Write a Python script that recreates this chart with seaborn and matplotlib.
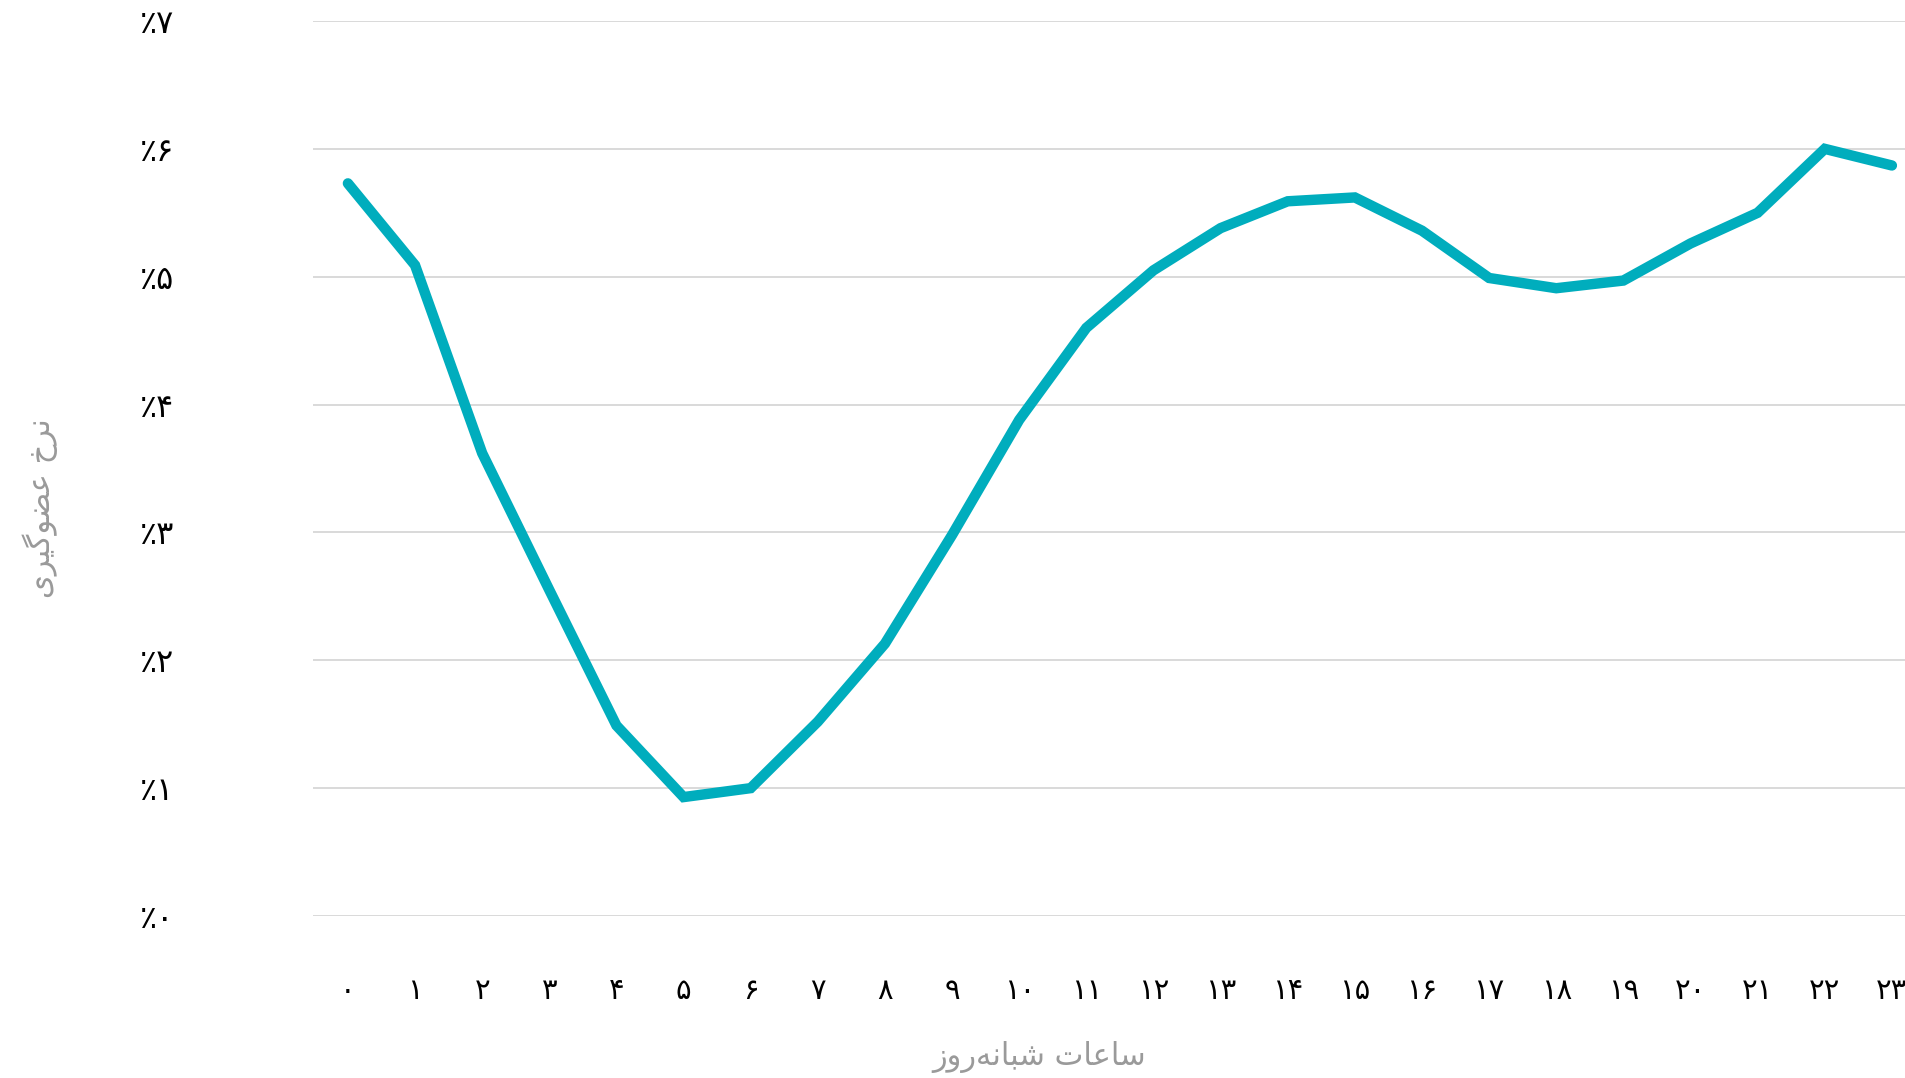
import seaborn as sns
import matplotlib.pyplot as plt
import pandas as pd

# hourly join rate (percent)
hours = list(range(24))
rates = [0.573, 0.509, 0.362, 0.255, 0.149, 0.093, 0.100, 0.152, 0.213, 0.298,
         0.388, 0.460, 0.505, 0.538, 0.559, 0.562, 0.536, 0.499, 0.491, 0.497,
         0.526, 0.550, 0.600, 0.587]
y_ticks = [0.0, 0.1, 0.2, 0.3, 0.4, 0.5, 0.6, 0.7]

# axis titles, letters in shaped presentation forms, visual (left to right) order
x_title = '\ufeaf\ufeed\ufead\ufeea\ufee7\ufe8e\ufe92\ufeb7 \ufe95\ufe8e\ufecb\ufe8e\ufeb3'   # ساعات شبانه‌روز
y_title = '\ufbfc\ufeae\ufbff\ufb94\ufeee\ufec0\ufecb \ufea5\ufeae\ufee7'                 # نرخ عضوگیری

FA_DIGITS = '۰۱۲۳۴۵۶۷۸۹'


def fa(n):
    return ''.join(FA_DIGITS[int(c)] for c in str(n))


df = pd.DataFrame({'hour': hours, 'rate': rates})

sns.set_style('white')
plt.rcParams['font.family'] = ['DejaVu Sans']

fig = plt.figure(figsize=(19.06, 10.78), dpi=100)
ax = fig.add_axes([313 / 1906, 1 - 916 / 1078, 1 - 313 / 1906, (916 - 21) / 1078])

sns.lineplot(data=df, x='hour', y='rate', ax=ax, color='#00adbd', linewidth=7.5,
             solid_capstyle='round', solid_joinstyle='miter', zorder=3)

ax.set_xlim(-0.52, 23.21)
ax.set_ylim(0, 0.7)
ax.set_yticks(y_ticks)
ax.set_yticklabels(['٪' + fa(int(round(v * 10))) for v in y_ticks])
ax.set_xticks(hours)
ax.set_xticklabels([fa(h) for h in hours])

ax.grid(axis='y', color='#d9d9d9', linewidth=1.4)
ax.grid(axis='x', visible=False)
for s in ax.spines.values():
    s.set_visible(False)

ax.tick_params(axis='y', length=0, pad=100, labelsize=23, labelcolor='black')
ax.tick_params(axis='x', length=0, pad=44, labelsize=21, labelcolor='black')

ax.set_xlabel(x_title, fontsize=22, color='#9a9a9a', va='center', ha='center')
ax.set_ylabel(y_title, fontsize=22, color='#9a9a9a', va='center', ha='center')
ax.xaxis.set_label_coords(0.456, -0.157)
ax.yaxis.set_label_coords(-0.1714, 0.456)

fig.savefig('out.png', dpi=100)
